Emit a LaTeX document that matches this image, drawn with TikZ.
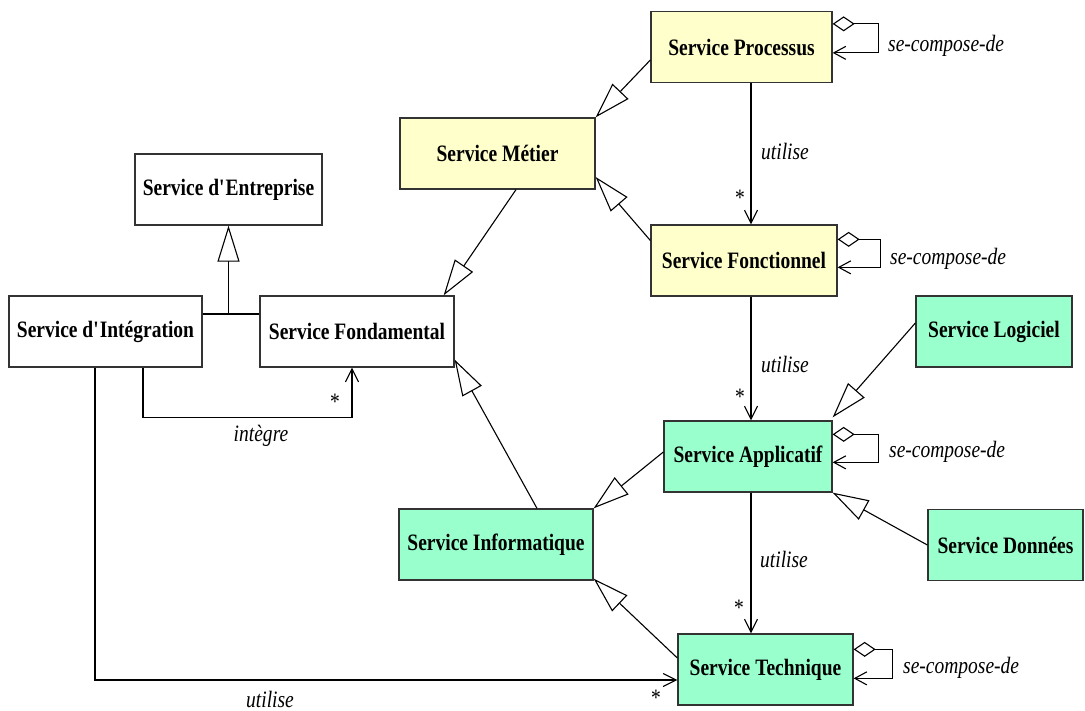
\documentclass[tikz,border=0pt]{standalone}
\usepackage{fontspec}
\setmainfont{Liberation Serif}[FakeStretch=0.83]
\definecolor{jaunepale}{RGB}{255,255,204}
\definecolor{vertmenthe}{RGB}{153,255,204}
\definecolor{bordgris}{gray}{0.2}
\usepackage{tikz}
\usetikzlibrary{arrows.meta,calc,positioning}

\begin{document}
\begin{tikzpicture}[x=1pt,y=-1pt,
    classe/.style={draw=bordgris,line width=1.3pt,minimum height=71pt,inner sep=0pt,font=\fontsize{23.5}{27}\selectfont\bfseries},
    lien/.style={font=\fontsize{23.5}{27}\selectfont\itshape,inner sep=0pt},
    gen/.style={line width=1.1pt,-{Triangle[open,length=36pt,width=22pt,fill=white]}},
    nav/.style={line width=1.1pt,-{Straight Barb[length=13pt,width=13pt]}},
    agreg/.style={line width=1.1pt,{Diamond[open,length=22pt,width=15pt]}-{Straight Barb[length=12pt,width=13pt]}}]
        \useasboundingbox (0,0) rectangle (1085,710);
        % les classes
        \node[classe,fill=jaunepale,minimum width=181pt] (proc) at (741.5,47) {Service Processus};
        \node[classe,fill=jaunepale,minimum width=195pt] (metier) at (497.5,153.5) {Service Métier};
        \node[classe,fill=jaunepale,minimum width=186pt] (fonct) at (744,260.5) {Service Fonctionnel};
        \node[classe,minimum width=187pt] (entr) at (228.5,189.5) {Service d\textquotesingle Entreprise};
        \node[classe,minimum width=193pt] (integ) at (105.5,331.5) {Service d\textquotesingle Intégration};
        \node[classe,minimum width=194pt] (fond) at (357,331.5) {Service Fondamental};
        \node[classe,fill=vertmenthe,minimum width=156pt] (logic) at (994,331.5) {Service Logiciel};
        \node[classe,fill=vertmenthe,minimum width=168pt] (appl) at (748,456.5) {Service Applicatif};
        \node[classe,fill=vertmenthe,minimum width=194pt] (info) at (496,544.5) {Service Informatique};
        \node[classe,fill=vertmenthe,minimum width=155pt] (donn) at (1005.5,545) {Service Données};
        \node[classe,fill=vertmenthe,minimum width=175pt] (tech) at (765.5,669.5) {Service Technique};
        % heritages
        \draw[gen] ($(proc.west)+(0,13)$) -- (metier.north east);
        \draw[gen] ($(fonct.west)+(0,-20)$) -- ($(metier.east)+(0,23.5)$);
        \draw[gen] ($(metier.south)+(18.5,0)$) -- ($(fond.north east)+(-11,0)$);
        \draw[gen] ($(info.north)+(41,0)$) -- ($(fond.south east)+(0,-8)$);
        \draw[gen] ($(appl.west)+(0,-4.5)$) -- (info.north east);
        \draw[gen] ($(tech.west)+(0,-11.5)$) -- ($(info.south east)+(0,-2)$);
        \draw[gen] ($(logic.west)+(0,-8.5)$) -- ($(appl.north east)+(0,-3)$);
        \draw[gen] (donn.west) -- (appl.south east);
        \coordinate (jonction) at ($(entr.south)+(0,89)$);
        \draw[gen] (jonction) -- (entr.south);
        \draw[line width=1.1pt] ($(integ.east)+(0,-17.5)$) -- ($(fond.west)+(0,-17.5)$);
        % associations
        \draw[nav] ($(proc.south)+(9.5,0)$) -- ($(fonct.north)+(7,0)$);
        \draw[nav] ($(fonct.south)+(7,0)$) -- ($(appl.north)+(3,0)$);
        \draw[nav] ($(appl.south)+(3,0)$) -- ($(tech.north)+(-14.5,0)$);
        \draw[nav] ($(integ.south)+(37.5,0)$) -- ++(0,50) -| ($(fond.south)+(-5,0)$);
        \draw[nav] ($(integ.south)+(-10.5,0)$) |- ($(tech.west)+(0,10.5)$);
        % compositions
        \draw[agreg] ($(proc.north east)+(0,13)$) -- ++(46,0) |- ($(proc.north east)+(0,42)$);
        \draw[agreg] ($(fonct.north east)+(0,15)$) -- ++(43,0) |- ($(fonct.north east)+(0,43)$);
        \draw[agreg] ($(appl.north east)+(0,14)$) -- ++(46,0) |- ($(appl.north east)+(0,42)$);
        \draw[agreg] ($(tech.north east)+(0,16)$) -- ++(39,0) |- ($(tech.north east)+(0,45)$);
        % libelles
        \node[lien,anchor=base west] (cproc) at (888,51) {se-compose-de};
        \node[lien,anchor=base west] (cfonct) at (890,264) {se-compose-de};
        \node[lien,anchor=base west] (cappl) at (889,457) {se-compose-de};
        \node[lien,anchor=base west] (ctech) at (903,673) {se-compose-de};
        \node[lien,anchor=base west] (u1) at (761,159) {utilise};
        \node[lien,anchor=base west] (u2) at (761,372) {utilise};
        \node[lien,anchor=base west] (u3) at (760,567) {utilise};
        \node[lien,anchor=base] (u4) at (270,707) {utilise};
        \node[lien,anchor=base] (integre) at (261,441) {intègre};
        \node[lien,font=\fontsize{23.5}{27}\selectfont] (m1) at (740,198) {*};
        \node[lien,font=\fontsize{23.5}{27}\selectfont] (m2) at (740,397) {*};
        \node[lien,font=\fontsize{23.5}{27}\selectfont] (m3) at (739,608) {*};
        \node[lien,font=\fontsize{23.5}{27}\selectfont] (m4) at (335,402) {*};
        \node[lien,font=\fontsize{23.5}{27}\selectfont] (m5) at (656,698) {*};
      \end{tikzpicture}
\end{document}
